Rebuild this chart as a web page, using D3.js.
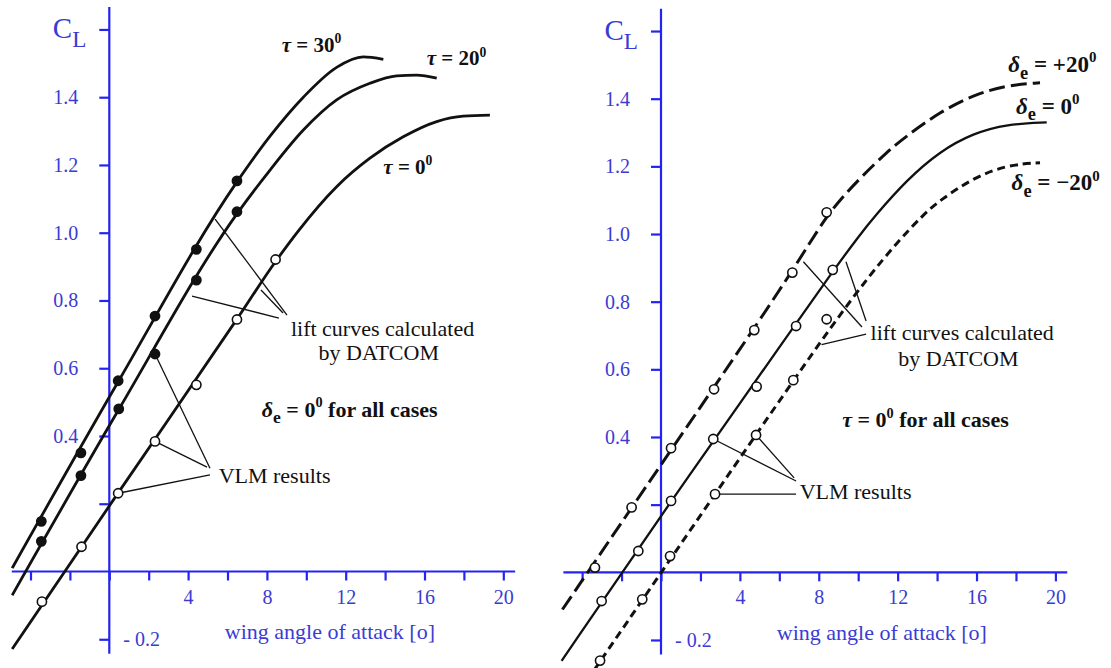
<!DOCTYPE html>
<html><head><meta charset="utf-8">
<script src="https://cdn.jsdelivr.net/npm/d3@7"></script>
<style>
body{margin:0;background:#fff;}
svg{display:block;}
text{font-family:"Liberation Serif","Times New Roman",serif;}
</style>
</head><body>
<svg id="chart" width="1111" height="668"></svg>
<script>
// ---------- shared axis data ----------
const xTicks = [-4,-2,0,2,4,6,8,10,12,14,16,18,20];
const xTickLabels = [4,8,12,16,20];
const yTicks = [1.6,1.4,1.2,1.0,0.8,0.6,0.4,0.2,-0.2];
const yTickLabels = [1.4,1.2,1.0,0.8,0.6,0.4];
const xAxisExtent = [-4.95, 20.6];
const yAxisExtent = [-0.243, 1.666];
const xTitle = "wing angle of attack [o]";

// ---------- left panel: DATCOM lift curves [alpha, CL] ----------
const tau30Curve = [[-4.93,0.01],[0.45,0.56],[6.48,1.15],[8.16,1.285],[9.85,1.40],[11.54,1.488],[12.89,1.519],[13.91,1.512]];
const tau20Curve = [[-4.93,-0.07],[0.48,0.478],[6.47,1.055],[8.16,1.185],[9.85,1.303],[11.54,1.392],[13.23,1.441],[14.59,1.463],[15.6,1.465],[16.62,1.456]];
const tau0Curve  = [[-4.93,-0.229],[0.45,0.232],[6.48,0.745],[8.44,0.915],[9.59,1.005],[11.54,1.136],[13.23,1.22],[14.92,1.283],[16.62,1.328],[17.97,1.344],[19.32,1.347]];

// left panel: VLM results
const tau30Alpha = [-3.45,-1.44,0.45,2.32,4.42,6.48];
const tau30CL    = [0.148,0.350,0.563,0.754,0.951,1.153];
const tau20Alpha = [-3.45,-1.44,0.48,2.32,4.42,6.48];
const tau20CL    = [0.089,0.283,0.480,0.642,0.860,1.062];
const tau0Alpha  = [-3.42,-1.41,0.45,2.32,4.42,6.48,8.44];
const tau0CL     = [-0.089,0.073,0.231,0.384,0.551,0.744,0.921];

// left panel: leader lines [[alpha,CL],[alpha,CL]]
const leftDatcomLeaders = [[[5.37,1.040],[9.02,0.757]],[[4.20,0.813],[8.61,0.748]],[[7.70,0.831],[8.82,0.763]]];
const leftVlmLeaders = [[[2.32,0.642],[5.11,0.305]],[[2.32,0.384],[4.96,0.308]],[[0.45,0.231],[5.11,0.285]]];

// ---------- right panel: DATCOM lift curves ----------
const dePlus20Curve = [[-5.0,-0.11],[0.51,0.362],[6.66,0.885],[8.4,1.06],[10.09,1.165],[11.5,1.245],[12.46,1.29],[14.15,1.361],[15.84,1.411],[17.53,1.44],[19.22,1.447]];
const de0Curve      = [[-5.04,-0.262],[0.51,0.212],[6.85,0.735],[8.71,0.89],[10.09,0.998],[10.77,1.048],[12.46,1.16],[14.15,1.245],[15.84,1.298],[17.53,1.325],[19.56,1.33]];
const deMinus20Curve= [[-3.4,-0.29],[6.71,0.568],[8.9,0.747],[10.5,0.872],[12.0,0.977],[13.3,1.057],[14.15,1.10],[15.84,1.166],[17.53,1.204],[19.22,1.211]];

// right panel: VLM results
const dePlus20Alpha = [-3.35,-1.49,0.51,2.69,4.73,6.66,8.40];
const dePlus20CL    = [0.014,0.192,0.367,0.541,0.716,0.886,1.064];
const de0Alpha      = [-3.01,-1.15,0.51,2.65,4.85,6.85,8.71];
const de0CL         = [-0.085,0.063,0.211,0.394,0.549,0.728,0.894];
const deMinus20Alpha= [-3.09,-0.95,0.46,2.74,4.82,6.71,8.40];
const deMinus20CL   = [-0.261,-0.080,0.048,0.231,0.406,0.568,0.748];

const rightDatcomLeaders = [[[7.22,0.918],[10.19,0.725]],[[9.38,0.918],[10.40,0.743]],[[8.14,0.673],[10.40,0.704]]];
const rightVlmLeaders = [[[2.65,0.394],[6.85,0.270]],[[4.82,0.406],[6.75,0.279]],[[2.74,0.231],[6.85,0.231]]];

// ---------- styling ----------
const AXIS = "#2424f2", AXTXT = "#3b3bd4", INK = "#111";

const svg = d3.select("#chart");

function richText(g, x, y, parts, o) {
  const t = g.append("text").attr("x", x).attr("y", y)
    .attr("font-size", o.size).attr("font-weight", o.weight || "normal")
    .attr("fill", o.fill || INK).attr("text-anchor", o.anchor || "start");
  let shift = 0;
  parts.forEach(p => {
    const ts = t.append("tspan").text(p.t);
    const target = p.sup ? -0.42 * o.size : p.sub ? 0.3 * o.size : 0;
    if (target !== shift) { ts.attr("dy", target - shift); shift = target; }
    if (p.sup || p.sub) ts.attr("font-size", o.size * (p.sub ? 0.8 : 0.65));
    if (p.italic) ts.attr("font-style", "italic");
  });
  return t;
}

function panel(cfg) {
  const x = d3.scaleLinear().domain([0, 20]).range(cfg.xRange);
  const y = d3.scaleLinear().domain([0, 1.4]).range(cfg.yRange);
  const g = svg.append("g");

  g.append("line").attr("x1", x(0)).attr("x2", x(0)).attr("y1", y(yAxisExtent[1])).attr("y2", y(yAxisExtent[0]))
    .attr("stroke", AXIS).attr("stroke-width", 2.2);
  g.append("line").attr("x1", x(xAxisExtent[0])).attr("x2", x(xAxisExtent[1])).attr("y1", y(0)).attr("y2", y(0))
    .attr("stroke", AXIS).attr("stroke-width", 2.2);

  const fmt = d3.format(".1f");
  const ya = g.append("g").attr("transform", `translate(${x(0)},0)`)
    .call(d3.axisLeft(y).tickValues(yTicks).tickSize(10).tickPadding(21)
      .tickFormat(d => yTickLabels.includes(d) ? fmt(d) : ""));
  const xa = g.append("g").attr("transform", `translate(0,${y(0)})`)
    .call(d3.axisBottom(x).tickValues(xTicks).tickSize(9).tickPadding(9)
      .tickFormat(d => xTickLabels.includes(d) ? d : ""));
  [ya, xa].forEach(a => {
    a.select(".domain").remove();
    a.selectAll(".tick line").attr("stroke", AXIS).attr("stroke-width", 2.2);
    a.selectAll(".tick text").attr("fill", AXTXT).attr("font-size", 20)
      .attr("font-family", '"Liberation Serif","Times New Roman",serif');
  });

  richText(g, x(0) - 23, y(1.6) + 9, [{t:"C"},{t:"L", sub:true}], {size: 29, fill: AXTXT, anchor: "end"});
  g.append("text").attr("x", x(0) + 14).attr("y", y(-0.2) + 7).attr("font-size", 20).attr("fill", AXTXT).text("- 0.2");
  g.append("text").attr("x", x(11.2)).attr("y", y(-0.18) + 7).attr("text-anchor", "middle")
    .attr("font-size", 22).attr("fill", AXTXT).text(xTitle);

  cfg.leaders.forEach(l => {
    g.append("line").attr("x1", x(l[0][0])).attr("y1", y(l[0][1])).attr("x2", x(l[1][0])).attr("y2", y(l[1][1]))
      .attr("stroke", INK).attr("stroke-width", 1.3);
  });

  cfg.curves.forEach(c => {
    const line = d3.line().x(d => x(d[0])).y(d => y(d[1])).curve(cfg.curveType);
    g.append("path").attr("d", line(c.data)).attr("fill", "none").attr("stroke", INK)
      .attr("stroke-width", c.width).attr("stroke-dasharray", c.dash || null);
  });

  cfg.markers.forEach(m => {
    g.selectAll(null).data(d3.zip(m.alpha, m.cl)).join("circle")
      .attr("cx", d => x(d[0])).attr("cy", d => y(d[1])).attr("r", 4.6)
      .attr("fill", m.filled ? INK : "#fff").attr("stroke", INK).attr("stroke-width", 1.6);
  });

  cfg.texts.forEach(tx => richText(g, x(tx.at[0]), y(tx.at[1]), tx.parts, tx.opts));
}

const lbl = {size: 21, weight: "bold"};
const dlbl = {size: 23, weight: "bold"};
const cases = {size: 22, weight: "bold"};
const note = {size: 22};

panel({
  xRange: [109.3, 503.3], yRange: [571.5, 97.2], curveType: d3.curveMonotoneX,
  leaders: leftDatcomLeaders.concat(leftVlmLeaders),
  curves: [
    {data: tau30Curve, width: 2.8},
    {data: tau20Curve, width: 2.8},
    {data: tau0Curve, width: 2.8}
  ],
  markers: [
    {alpha: tau30Alpha, cl: tau30CL, filled: true},
    {alpha: tau20Alpha, cl: tau20CL, filled: true},
    {alpha: tau0Alpha, cl: tau0CL, filled: false}
  ],
  texts: [
    {at: [8.75, 1.533], parts: [{t:"τ", italic:true},{t:" = 30"},{t:"0", sup:true}], opts: lbl},
    {at: [16.11, 1.494], parts: [{t:"τ", italic:true},{t:" = 20"},{t:"0", sup:true}], opts: lbl},
    {at: [13.91, 1.174], parts: [{t:"τ", italic:true},{t:" = 0"},{t:"0", sup:true}], opts: lbl},
    {at: [9.22, 0.695], parts: [{t:"lift curves calculated"}], opts: note},
    {at: [13.68, 0.624], parts: [{t:"by DATCOM"}], opts: {size: 22, anchor: "middle"}},
    {at: [7.74, 0.457], parts: [{t:"δ", italic:true},{t:"e", sub:true},{t:" = 0"},{t:"0", sup:true},{t:"  for all cases"}], opts: cases},
    {at: [5.55, 0.26], parts: [{t:"VLM results"}], opts: note}
  ]
});

panel({
  xRange: [661, 1055.4], yRange: [572.3, 98.7], curveType: d3.curveBasis,
  leaders: rightDatcomLeaders.concat(rightVlmLeaders),
  curves: [
    {data: dePlus20Curve, width: 3, dash: "16,6"},
    {data: de0Curve, width: 2.3},
    {data: deMinus20Curve, width: 3, dash: "8,5"}
  ],
  markers: [
    {alpha: dePlus20Alpha, cl: dePlus20CL, filled: false},
    {alpha: de0Alpha, cl: de0CL, filled: false},
    {alpha: deMinus20Alpha, cl: deMinus20CL, filled: false}
  ],
  texts: [
    {at: [17.61, 1.479], parts: [{t:"δ", italic:true},{t:"e", sub:true},{t:" = +20"},{t:"0", sup:true}], opts: dlbl},
    {at: [18.0, 1.356], parts: [{t:"δ", italic:true},{t:"e", sub:true},{t:" = 0"},{t:"0", sup:true}], opts: dlbl},
    {at: [17.78, 1.129], parts: [{t:"δ", italic:true},{t:"e", sub:true},{t:" = −20"},{t:"0", sup:true}], opts: dlbl},
    {at: [10.63, 0.687], parts: [{t:"lift curves calculated"}], opts: note},
    {at: [15.08, 0.611], parts: [{t:"by DATCOM"}], opts: {size: 22, anchor: "middle"}},
    {at: [9.19, 0.429], parts: [{t:"τ", italic:true},{t:" = 0"},{t:"0", sup:true},{t:"  for all cases"}], opts: cases},
    {at: [7.03, 0.217], parts: [{t:"VLM results"}], opts: note}
  ]
});
</script>
</body></html>
